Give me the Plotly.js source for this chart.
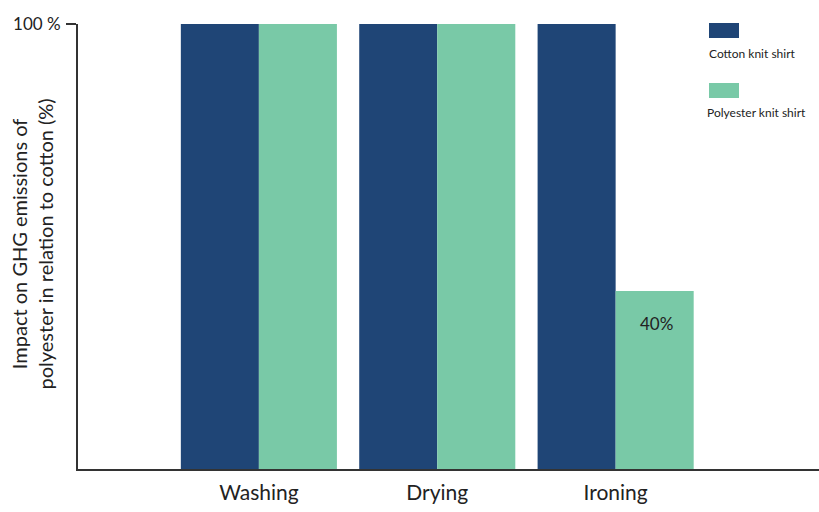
<!DOCTYPE html>
<html>
<head>
<meta charset="utf-8">
<script src="https://cdn.plot.ly/plotly-3.0.1.min.js"></script>
<style>html,body{margin:0;padding:0;background:#fff;}#chart{width:819px;height:512px;}</style>
</head>
<body>
<div id="chart"></div>
<script>
const categories = ["Washing", "Drying", "Ironing"];
const seriesNames = ["Cotton knit shirt", "Polyester knit shirt"];
const cotton = [100, 100, 100];
const polyester = [100, 100, 40];
const yTickVals = [100];
const yTickText = ["100 %"];
const yTitle = "Impact on GHG emissions of<br>polyester in relation to cotton (%)";

const colors = ["#1f4576", "#79c9a7"];
const font = "Lato, 'Open Sans', sans-serif";

const traces = [
  {type: "bar", x: categories, y: cotton, name: seriesNames[0], marker: {color: colors[0]}, hoverinfo: "none"},
  {type: "bar", x: categories, y: polyester, name: seriesNames[1], marker: {color: colors[1]}, hoverinfo: "none"}
];

const annotations = [
  {xref: "paper", yref: "paper", x: 0, y: 0.5, xshift: -47, yshift: 2, text: yTitle, textangle: -90,
   showarrow: false, font: {family: font, size: 20, color: "#222"}, xanchor: "center", yanchor: "middle"},
  {xref: "x", yref: "y", x: categories[2], y: polyester[2], xshift: 41, yshift: -32,
   text: polyester[2] + "%", showarrow: false, font: {family: font, size: 17, color: "#222"}},
  {xref: "paper", yref: "paper", x: 1, xshift: -112, y: 1, yshift: -29, text: seriesNames[0],
   showarrow: false, xanchor: "left", yanchor: "middle", font: {family: font, size: 12, color: "#222"}},
  {xref: "paper", yref: "paper", x: 1, xshift: -114, y: 1, yshift: -88, text: seriesNames[1],
   showarrow: false, xanchor: "left", yanchor: "middle", font: {family: font, size: 12, color: "#222"}}
];

// legend swatches in paper coords (plot area: x 78..819, y 24..469)
const W = 741, H = 445;
function px(x){ return (x - 78) / W; }
function py(y){ return (469 - y) / H; }
const shapes = [
  {type: "rect", xref: "paper", yref: "paper", x0: px(709), x1: px(739), y0: py(38), y1: py(23), fillcolor: colors[0], line: {width: 0}},
  {type: "rect", xref: "paper", yref: "paper", x0: px(709), x1: px(739), y0: py(98), y1: py(83), fillcolor: colors[1], line: {width: 0}}
];

const layout = {
  width: 819, height: 512,
  margin: {l: 78, r: 0, t: 24, b: 43},
  paper_bgcolor: "#fff", plot_bgcolor: "#fff",
  barmode: "group", bargap: 0.125, bargroupgap: 0,
  showlegend: false,
  font: {family: font, color: "#222"},
  xaxis: {
    range: [-1.014, 3.14], showgrid: false, zeroline: false,
    showline: true, linecolor: "#333", linewidth: 2,
    ticks: "", tickfont: {family: font, size: 21, color: "#222"}, ticklabelstandoff: 4
  },
  yaxis: {
    range: [0, 100], showgrid: false, zeroline: false,
    showline: true, linecolor: "#333", linewidth: 2,
    tickvals: yTickVals, ticktext: yTickText,
    ticks: "outside", ticklen: 10, tickwidth: 1.5, tickcolor: "#333",
    tickfont: {family: font, size: 17, color: "#222"}, ticklabelstandoff: 2
  },
  annotations: annotations,
  shapes: shapes
};

Plotly.newPlot("chart", traces, layout, {displayModeBar: false, staticPlot: true});
</script>
</body>
</html>
